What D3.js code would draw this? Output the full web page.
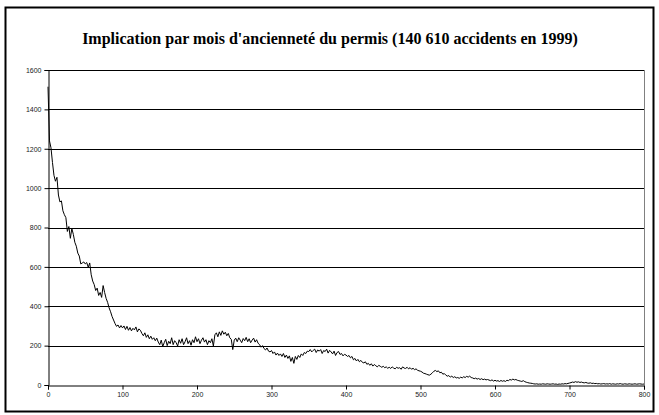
<!DOCTYPE html>
<html>
<head>
<meta charset="utf-8">
<script src="https://cdn.jsdelivr.net/npm/d3@7"></script>
<style>
  body { margin: 0; background: #fff; }
  .tick text { font-family: "Liberation Sans", Arial, sans-serif; font-size: 7px; fill: #222; }
</style>
</head>
<body>
<div id="chart"></div>
<script>
const titleText = "Implication par mois d'ancienneté du permis (140 610 accidents en 1999)";
const yTicks = [0, 200, 400, 600, 800, 1000, 1200, 1400, 1600];
const xTicks = [0, 100, 200, 300, 400, 500, 600, 700, 800];
const monthStep = 2; // one value every 2 months of licence age

// accidents per month of licence age (months 0, 2, 4, ... 800)
const counts0 = [1515, 1240, 1205, 1130, 1065, 1035, 1055, 965, 930, 935, 885, 865, 850, 780, 805, 745, 795, 765, 725, 705, 670, 655, 615, 620, 625];
const counts50 = [615, 622, 598, 620, 560, 528, 510, 480, 492, 455, 470, 445, 505, 470, 440, 420, 392, 372, 348, 330, 312, 298, 305, 290, 302];
const counts100 = [290, 300, 282, 298, 278, 292, 275, 288, 280, 295, 270, 285, 278, 262, 250, 265, 242, 255, 235, 248, 232, 240, 225, 238, 218];
const counts150 = [205, 228, 195, 215, 232, 200, 222, 210, 240, 205, 225, 215, 198, 230, 212, 235, 205, 220, 240, 210, 225, 202, 230, 215, 245];
const counts200 = [220, 235, 210, 228, 240, 218, 230, 205, 225, 215, 235, 198, 255, 265, 245, 270, 252, 275, 258, 268, 250, 262, 240, 232, 180];
const counts250 = [228, 238, 220, 240, 228, 215, 236, 225, 242, 220, 235, 215, 228, 238, 218, 230, 212, 205, 192, 200, 185, 178, 188, 172, 168];
const counts300 = [175, 160, 168, 152, 162, 150, 158, 145, 160, 140, 152, 135, 148, 120, 140, 110, 145, 130, 150, 140, 158, 150, 165, 160, 172];
const counts350 = [170, 180, 168, 176, 182, 165, 178, 172, 180, 160, 175, 170, 182, 162, 176, 168, 158, 172, 150, 165, 170, 155, 160, 148, 156];
const counts400 = [152, 145, 150, 138, 145, 128, 135, 122, 130, 118, 125, 115, 112, 118, 105, 110, 100, 108, 96, 104, 98, 92, 100, 95, 90];
const counts450 = [95, 88, 92, 85, 90, 84, 92, 86, 82, 90, 85, 88, 80, 92, 86, 84, 90, 82, 88, 80, 85, 78, 82, 75, 72];
const counts500 = [70, 66, 60, 58, 55, 52, 50, 55, 62, 70, 74, 68, 72, 62, 65, 55, 58, 50, 45, 48, 40, 45, 38, 42, 36];
const counts550 = [38, 34, 40, 36, 42, 38, 44, 40, 45, 38, 36, 32, 35, 30, 33, 28, 32, 27, 30, 26, 28, 25, 22, 26, 20];
const counts600 = [24, 20, 22, 18, 23, 19, 22, 18, 24, 22, 28, 25, 30, 26, 28, 24, 22, 20, 18, 22, 17, 14, 12, 10, 9];
const counts650 = [8, 6, 5, 6, 4, 5, 4, 6, 5, 4, 6, 5, 4, 5, 6, 4, 5, 3, 5, 4, 6, 5, 7, 6, 8];
const counts700 = [10, 12, 15, 13, 17, 14, 16, 13, 15, 12, 11, 13, 10, 9, 11, 8, 9, 7, 8, 6, 7, 5, 6, 7, 5];
const counts750 = [6, 5, 7, 4, 6, 5, 4, 6, 5, 7, 5, 4, 6, 5, 4, 6, 5, 4, 5, 6, 4, 5, 6, 5, 4, 5];

const counts = [].concat(counts0, counts50, counts100, counts150, counts200, counts250, counts300,
    counts350, counts400, counts450, counts500, counts550, counts600, counts650, counts700, counts750);
const data = counts.map((v, i) => ({ month: i * monthStep, value: v }));

const W = 659, H = 415;
const margin = { top: 70, right: 15, bottom: 30, left: 48 };
const width = W - margin.left - margin.right;   // 596
const height = H - margin.top - margin.bottom;  // 315

const svg = d3.select("#chart").append("svg")
    .attr("width", W)
    .attr("height", H);

// outer frame
svg.append("rect")
    .attr("x", 5.5).attr("y", 7.5)
    .attr("width", 648).attr("height", 404)
    .attr("fill", "#fff")
    .attr("stroke", "#000")
    .attr("stroke-width", 2);

// title
svg.append("text")
    .attr("x", 330)
    .attr("y", 44)
    .attr("text-anchor", "middle")
    .style("font-family", "'Liberation Serif', 'Times New Roman', serif")
    .style("font-weight", "bold")
    .style("font-size", "16px")
    .text(titleText);

const g = svg.append("g").attr("transform", `translate(${margin.left},${margin.top})`);

const x = d3.scaleLinear().domain([0, 800]).range([0, width]);
const y = d3.scaleLinear().domain([0, 1600]).range([height, 0]);

// gridlines
g.selectAll(".grid").data(yTicks.filter(d => d > 0)).enter()
    .append("line")
    .attr("class", "grid")
    .attr("x1", 0).attr("x2", width)
    .attr("y1", d => Math.round(y(d)) + 0.5)
    .attr("y2", d => Math.round(y(d)) + 0.5)
    .attr("stroke", "#000")
    .attr("stroke-width", 1);

// right border of the plot area
g.append("line")
    .attr("x1", width + 0.5).attr("x2", width + 0.5)
    .attr("y1", 0).attr("y2", height)
    .attr("stroke", "#808080")
    .attr("stroke-width", 1);

// axes
const yAxis = g.append("g")
    .attr("transform", "translate(0.5,0)")
    .call(d3.axisLeft(y).tickValues(yTicks).tickFormat(d3.format("d")).tickSize(4).tickPadding(3));
const xAxis = g.append("g")
    .attr("transform", `translate(0,${height + 0.5})`)
    .call(d3.axisBottom(x).tickValues(xTicks).tickFormat(d3.format("d")).tickSize(4).tickPadding(3));

[yAxis, xAxis].forEach(a => {
    a.select(".domain").attr("stroke", "#000");
    a.selectAll(".tick line").attr("stroke", "#000");
});

// the series
const line = d3.line()
    .x(d => x(d.month))
    .y(d => y(d.value));

g.append("path")
    .datum(data)
    .attr("d", line)
    .attr("fill", "none")
    .attr("stroke", "#000")
    .attr("stroke-width", 1);
</script>
</body>
</html>
